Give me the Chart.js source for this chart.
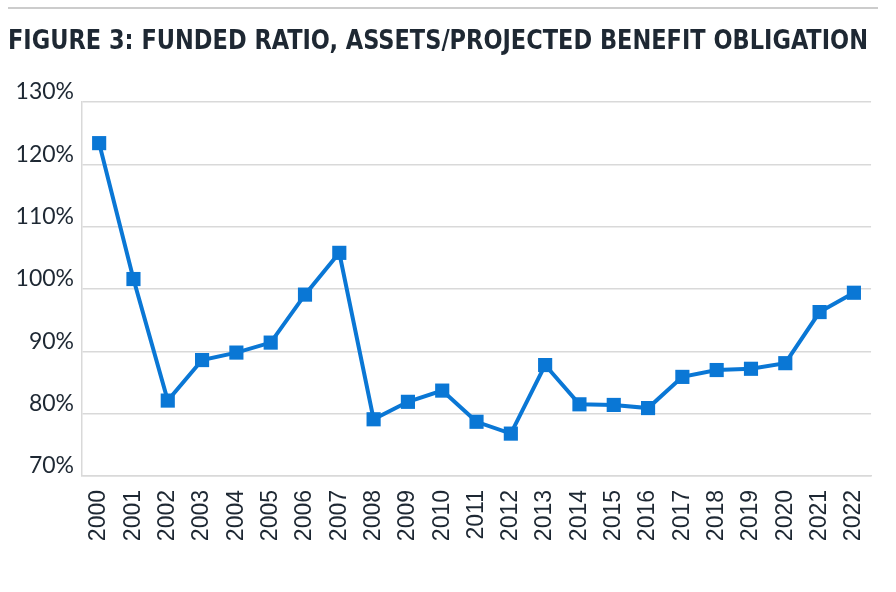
<!DOCTYPE html>
<html>
<head>
<meta charset="utf-8">
<script src="https://cdn.jsdelivr.net/npm/chart.js@4.4.1/dist/chart.umd.min.js"></script>
<style>
  html, body { margin: 0; padding: 0; background: #fff; }
  #wrap { width: 896px; height: 592px; position: relative; }
</style>
</head>
<body>
<div id="wrap"><canvas id="fundedChart"></canvas></div>
<script>
// data
const years = ["2000", "2001", "2002", "2003", "2004", "2005", "2006", "2007", "2008", "2009", "2010",
  "2011", "2012", "2013", "2014", "2015", "2016", "2017", "2018", "2019", "2020", "2021", "2022"];
const fundedRatio = [123.4, 101.6, 82.1, 88.6, 89.8, 91.4, 99.1, 105.8, 79.1, 81.9, 83.7,
  78.7, 76.8, 87.8, 81.5, 81.4, 80.9, 85.9, 87.0, 87.2, 88.1, 96.3, 99.4];
const yMin = 70;
const yMax = 130;
const yStep = 10;
const titleText = "FIGURE 3: FUNDED RATIO, ASSETS/PROJECTED BENEFIT OBLIGATION";

const blue = "#0a77d5";
const ink = "#1e2833";
const gridGrey = "#d9d9d9";

// header: grey rule + heavy title squeezed to the figure width
const headerPlugin = {
  id: "header",
  afterDraw(chart) {
    const c = chart.ctx;
    c.save();
    c.strokeStyle = "#cccccc";
    c.lineWidth = 2;
    c.beginPath();
    c.moveTo(8, 8);
    c.lineTo(878, 8);
    c.stroke();

    c.font = 'bold 26px "DejaVu Sans Condensed"';
    c.fillStyle = ink;
    c.textBaseline = "alphabetic";
    const w = c.measureText(titleText).width;
    c.translate(8, 49);
    c.scale(860 / w, 1);
    c.fillText(titleText, 0, 0);
    c.restore();
  }
};

const ctx = document.getElementById("fundedChart").getContext("2d");
const fundedChart = new Chart(ctx, {
  type: "line",
  data: {
    labels: years,
    datasets: [
      {
        label: "Funded ratio",
        data: fundedRatio,
        borderColor: blue,
        backgroundColor: blue,
        borderWidth: 4,
        tension: 0,
        pointStyle: "rect",
        pointRadius: 10,
        pointHoverRadius: 10,
        pointBorderWidth: 0,
        pointBackgroundColor: blue,
      },
    ],
  },
  options: {
    responsive: true,
    maintainAspectRatio: false,
    animation: false,
    layout: {
      padding: { top: 102, right: 23, left: 0, bottom: 0 },
    },
    scales: {
      y: {
        min: yMin,
        max: yMax,
        afterFit: function (scale) {
          scale.width = 82;
        },
        ticks: {
          stepSize: yStep,
          color: ink,
          padding: 8,
          labelOffset: -10,
          font: { family: "Lato", size: 23 },
          callback: function (value) {
            return value + "%";
          },
        },
        grid: {
          color: gridGrey,
          lineWidth: 1.5,
          drawTicks: false,
        },
        border: { display: true, color: gridGrey, width: 1.5 },
      },
      x: {
        offset: true,
        afterFit: function (scale) {
          scale.height = 116;
        },
        ticks: {
          color: ink,
          padding: 14,
          autoSkip: false,
          minRotation: 90,
          maxRotation: 90,
          font: { family: "Liberation Sans", size: 23 },
        },
        grid: { display: false, drawTicks: false },
        border: { display: true, color: gridGrey, width: 1.5 },
      },
    },
    plugins: {
      legend: { display: false },
      tooltip: { enabled: false },
    },
  },
  plugins: [headerPlugin],
});
</script>
</body>
</html>
